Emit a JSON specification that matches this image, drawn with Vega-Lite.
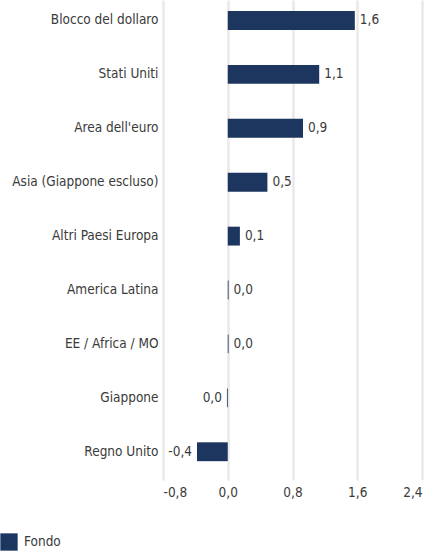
{
  "$schema": "https://vega.github.io/schema/vega-lite/v6.json",
  "width": 259,
  "height": 480,
  "autosize": {"type": "none"},
  "padding": {"left": 163, "top": 0, "right": 16, "bottom": 74},
  "config": {
    "view": {"stroke": null},
    "font": "DejaVu Sans Condensed, sans-serif",
    "locale": {"number": {"decimal": ",", "thousands": ".", "grouping": [3], "currency": ["€", ""], "minus": "-"}},
    "axis": {"labelFont": "DejaVu Sans Condensed, sans-serif", "labelColor": "#3a3a3a", "labelFontSize": 13.5},
    "legend": {"labelFont": "DejaVu Sans Condensed, sans-serif", "labelColor": "#3a3a3a", "labelFontSize": 13.5}
  },
  "data": {
    "values": [
      {"regione": "Blocco del dollaro", "valore": 1.57, "serie": "Fondo"},
      {"regione": "Stati Uniti", "valore": 1.13, "serie": "Fondo"},
      {"regione": "Area dell'euro", "valore": 0.93, "serie": "Fondo"},
      {"regione": "Asia (Giappone escluso)", "valore": 0.49, "serie": "Fondo"},
      {"regione": "Altri Paesi Europa", "valore": 0.15, "serie": "Fondo"},
      {"regione": "America Latina", "valore": 0.01, "serie": "Fondo"},
      {"regione": "EE / Africa / MO", "valore": 0.01, "serie": "Fondo"},
      {"regione": "Giappone", "valore": -0.01, "serie": "Fondo"},
      {"regione": "Regno Unito", "valore": -0.38, "serie": "Fondo"}
    ]
  },
  "encoding": {
    "y": {
      "field": "regione", "type": "nominal", "sort": null,
      "scale": {"paddingInner": 0.65, "paddingOuter": 0.277, "align": 0.37},
      "axis": {"title": null, "domain": false, "ticks": false, "labelPadding": 5, "grid": false}
    },
    "x": {
      "field": "valore", "type": "quantitative",
      "scale": {"domain": [-0.8, 2.4], "nice": false, "zero": false},
      "axis": {"title": null, "values": [-0.8, 0, 0.8, 1.6, 2.4], "format": ".1f", "domain": false, "ticks": false, "labelPadding": 5, "grid": true, "gridColor": "#ebe9e6", "gridWidth": 2.5}
    }
  },
  "layer": [
    {
      "mark": {"type": "bar", "color": "#1c3660"},
      "encoding": {
        "color": {
          "field": "serie", "type": "nominal",
          "scale": {"range": ["#1c3660"]},
          "legend": {"title": null, "orient": "none", "legendX": -163, "legendY": 533, "symbolType": "square", "symbolSize": 300, "symbolStrokeWidth": 0, "labelOffset": 6, "padding": 0}
        }
      }
    },
    {
      "transform": [{"filter": "datum.valore >= 0"}],
      "mark": {"type": "text", "align": "left", "dx": 5, "fontSize": 13.5, "color": "#3a3a3a"},
      "encoding": {"text": {"field": "valore", "type": "quantitative", "format": ".1f"}}
    },
    {
      "transform": [{"filter": "datum.valore < 0"}],
      "mark": {"type": "text", "align": "right", "dx": -5, "fontSize": 13.5, "color": "#3a3a3a"},
      "encoding": {"text": {"field": "valore", "type": "quantitative", "format": ".1f"}}
    }
  ]
}
